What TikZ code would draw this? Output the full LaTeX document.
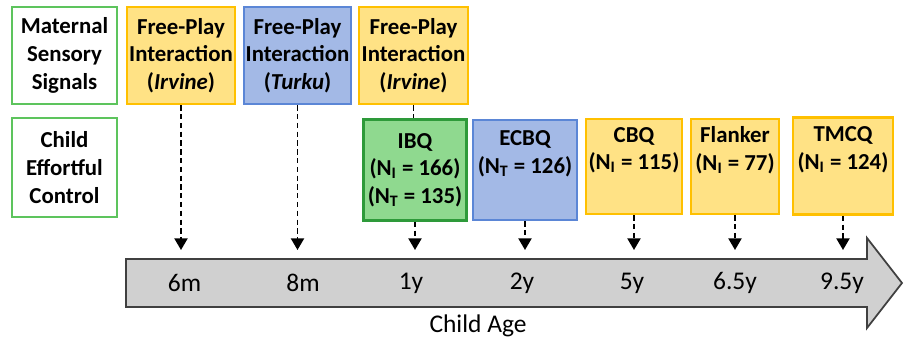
\documentclass[tikz,border=0pt]{standalone}
\usepackage{fontspec}
\setmainfont{Carlito}
\usetikzlibrary{arrows.meta}

\definecolor{goldfill}{HTML}{FFE285}
\definecolor{goldline}{HTML}{FFC000}
\definecolor{bluefill}{HTML}{A3B9E6}
\definecolor{blueline}{HTML}{5B86D6}
\definecolor{greenfill}{HTML}{8FD98F}
\definecolor{greenline}{HTML}{2E9A3A}
\definecolor{lightgreen}{HTML}{5DC45D}
\definecolor{axisfill}{HTML}{D0D0D0}
\definecolor{axisline}{HTML}{404040}

\tikzset{
	box/.style={draw, line width=1.5pt, align=center, inner sep=0pt, font=\fontsize{13}{15.8}\selectfont\bfseries},
	rowbox/.style={box, draw=lightgreen, fill=white, minimum width=2.1cm},
	goldbox/.style={box, draw=goldline, fill=goldfill},
	bluebox/.style={box, draw=blueline, fill=bluefill},
	greenbox/.style={box, draw=greenline, fill=greenfill},
	tick/.style={line width=1.1pt, dash pattern=on 3pt off 2pt},
	tickarrow/.style={tick, -{Triangle[width=7.4pt, length=6.6pt]}},
	age/.style={font=\fontsize{14.5}{16}\selectfont}
}

\begin{document}
\begin{tikzpicture}[x=0.02cm, y=-0.02cm]
		\useasboundingbox (0,0) rectangle (904,341);
		\filldraw[fill=axisfill, draw=axisline, line width=1pt] (126,259) -- (867,259) -- (867,238) -- (902,283) -- (867,328) -- (867,307) -- (126,307) -- cycle;
		\node[age] (lab6m) at (184.5,283) {6m};
		\node[age] (lab8m) at (303,283) {8m};
		\node[age] (lab1y) at (411,283) {1y};
		\node[age] (lab2y) at (522,283) {2y};
		\node[age] (lab5y) at (632,283) {5y};
		\node[age] (lab65y) at (735,283) {6.5y};
		\node[age] (lab95y) at (842,283) {9.5y};
		\node[age] (agetitle) at (478,326) {Child Age};

		\node[rowbox, minimum height=1.94cm] (mat) at (64.5,55.5) {Maternal\\Sensory\\Signals};
		\node[rowbox, minimum height=1.98cm] (child) at (64.5,167.5) {Child\\Effortful\\Control};

		\node[goldbox, minimum width=2.16cm, minimum height=1.94cm] (fp1) at (181,55.5) {Free-Play\\Interaction\\(\textit{Irvine})};
		\node[bluebox, minimum width=2.14cm, minimum height=1.94cm] (fp2) at (297.5,55.5) {Free-Play\\Interaction\\(\textit{Turku})};
		\node[goldbox, minimum width=2.18cm, minimum height=1.94cm] (fp3) at (413.5,55.5) {Free-Play\\Interaction\\(\textit{Irvine})};

		\node[greenbox, minimum width=2.06cm, minimum height=2.02cm] (ibq) at (415,170) {IBQ\\(N\textsubscript{I} = 166)\\(N\textsubscript{T} = 135)};
		\node[bluebox, minimum width=2.08cm, minimum height=2cm] (ecbq) at (525,170) {ECBQ\\(N\textsubscript{T} = 126)\\\strut};
		\node[goldbox, minimum width=1.92cm, minimum height=1.9cm] (cbq) at (634,166.5) {CBQ\\(N\textsubscript{I} = 115)\\\strut};
		\node[goldbox, minimum width=1.76cm, minimum height=1.9cm] (flank) at (735,166.5) {Flanker\\(N\textsubscript{I} = 77)\\\strut};
		\node[goldbox, minimum width=2cm, minimum height=1.94cm] (tmcq) at (843,166) {TMCQ\\(N\textsubscript{I} = 124)\\\strut};

		\coordinate (tip6m) at (181,250);
		\coordinate (tip8m) at (297.5,250);
		\coordinate (tip1y) at (415,250);
		\coordinate (tip2y) at (525,250);
		\coordinate (tip5y) at (634,250);
		\coordinate (tip65y) at (735,250);
		\coordinate (tip95y) at (843,250);

		\draw[tickarrow] (fp1.south) -- (tip6m);
		\draw[tickarrow] (fp2.south) -- (tip8m);
		\draw[tick] (fp3.south) -- (fp3.south |- ibq.north);
		\draw[tickarrow] (ibq.south) -- (tip1y);
		\draw[tickarrow] (ecbq.south) -- (tip2y);
		\draw[tickarrow] (cbq.south) -- (tip5y);
		\draw[tickarrow] (flank.south) -- (tip65y);
		\draw[tickarrow] (tmcq.south) -- (tip95y);
	\end{tikzpicture}
\end{document}
